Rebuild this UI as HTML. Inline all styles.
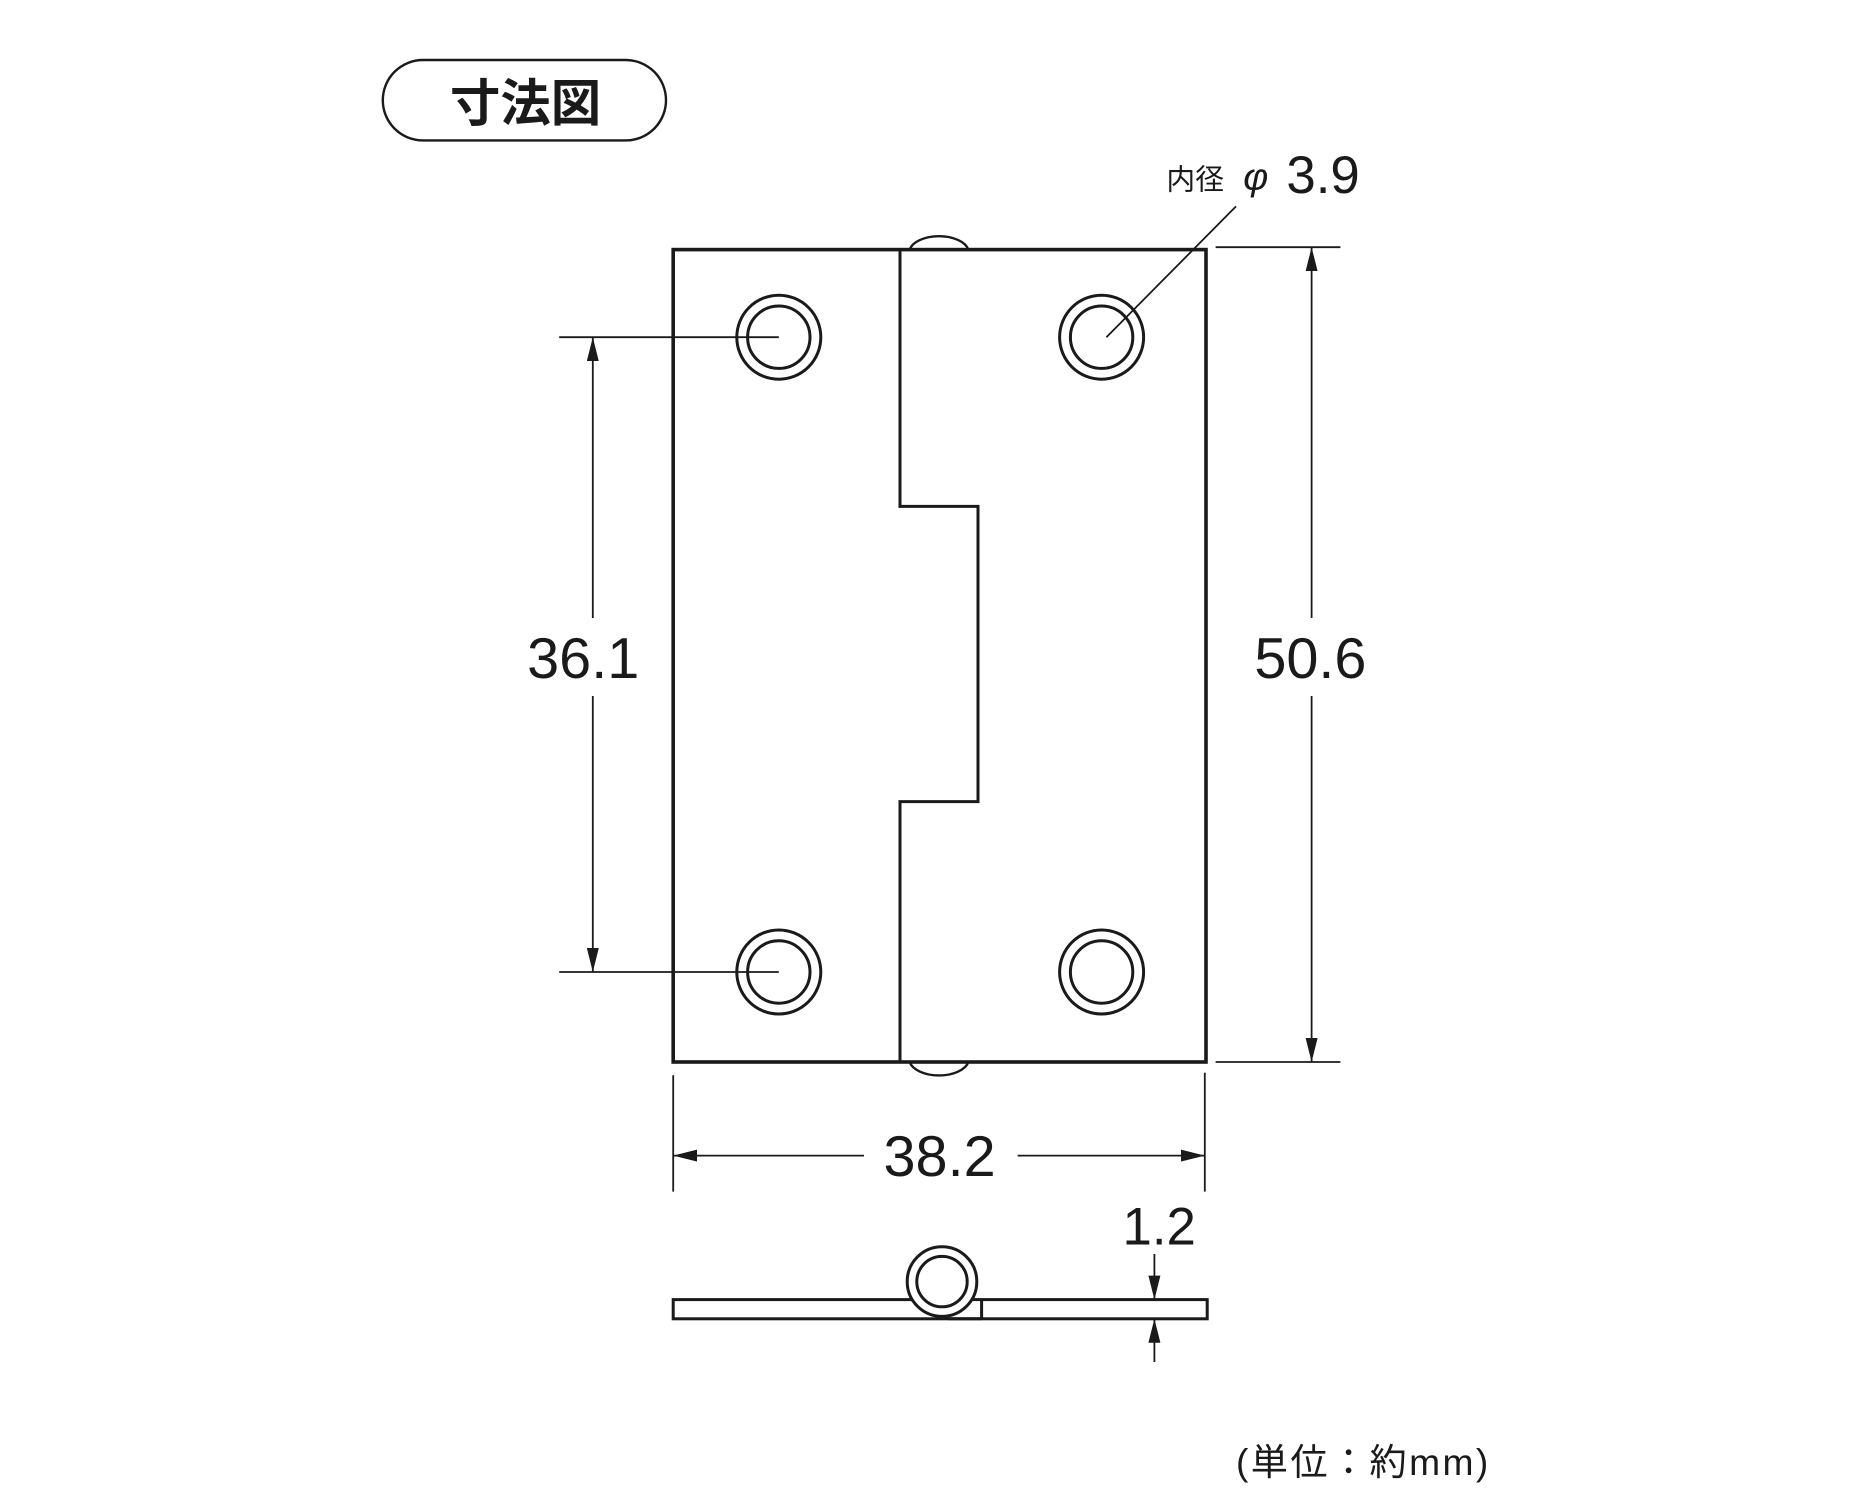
<!DOCTYPE html>
<html><head><meta charset="utf-8"><style>
html,body{margin:0;padding:0;background:#fff;}
svg{display:block;}
text{font-family:"Liberation Sans","Noto Sans CJK JP",sans-serif;fill:#1a1a1a;}
</style></head><body>
<svg width="1875" height="1500" viewBox="0 0 1562.5 1250" xmlns="http://www.w3.org/2000/svg">
<defs>
<marker id="a" viewBox="0 0 20 10" refX="20" refY="5" markerWidth="20" markerHeight="10" markerUnits="userSpaceOnUse" orient="auto-start-reverse"><path d="M0,0 L20,5 L0,10 z" fill="#1a1a1a"/></marker>
</defs>
<rect x="319" y="50" width="236" height="67" rx="33.5" fill="none" stroke="#1a1a1a" stroke-width="2"/>
<text x="438" y="101" font-size="42" font-weight="bold" text-anchor="middle">寸法図</text>

<g fill="none" stroke="#1a1a1a">
<path d="M758,208 A25,14 0 0 1 807,208" stroke-width="2"/>
<path d="M758,885 A25,14 0 0 0 807,885" stroke-width="2"/>
<rect x="561" y="208" width="444" height="677" stroke-width="3"/>
<path d="M750,208 V422 H815 V668 H750 V885" stroke-width="2.5"/>
<g stroke-width="2.5">
<circle cx="649" cy="281" r="35"/><circle cx="649" cy="281" r="26"/>
<circle cx="918" cy="281" r="35"/><circle cx="918" cy="281" r="26"/>
<circle cx="649" cy="810" r="35"/><circle cx="649" cy="810" r="26"/>
<circle cx="918" cy="810" r="35"/><circle cx="918" cy="810" r="26"/>
</g>
<g stroke-width="1.5">
<line x1="922" y1="281" x2="1030" y2="172"/>
<line x1="466" y1="281" x2="649" y2="281"/>
<line x1="466" y1="810" x2="649" y2="810"/>
<line x1="494" y1="515" x2="494" y2="281" marker-end="url(#a)"/>
<line x1="494" y1="580" x2="494" y2="810" marker-end="url(#a)"/>
<line x1="1013" y1="206" x2="1117" y2="206"/>
<line x1="1013" y1="885" x2="1117" y2="885"/>
<line x1="1093" y1="515" x2="1093" y2="206" marker-end="url(#a)"/>
<line x1="1093" y1="580" x2="1093" y2="885" marker-end="url(#a)"/>
<line x1="561" y1="896" x2="561" y2="993"/>
<line x1="1004" y1="894" x2="1004" y2="993"/>
<line x1="720" y1="963" x2="561" y2="963" marker-end="url(#a)"/>
<line x1="848" y1="963" x2="1004" y2="963" marker-end="url(#a)"/>
<line x1="962" y1="1045" x2="962" y2="1083" marker-end="url(#a)"/>
<line x1="962" y1="1135" x2="962" y2="1099" marker-end="url(#a)"/>
</g>
<!-- side view -->
<rect x="561" y="1083" width="445" height="16" stroke-width="2.5"/>
<circle cx="785" cy="1068" r="29" stroke-width="2.5" fill="#fff"/>
<circle cx="785" cy="1068" r="21" stroke-width="2.5" fill="#fff"/>
<line x1="818" y1="1083" x2="818" y2="1099" stroke-width="2.5"/>
<line x1="790" y1="1099" x2="818" y2="1099" stroke-width="2.5"/>
</g>

<text x="972" y="158" font-size="24">内径</text>
<text x="1036" y="158" font-size="32" font-style="italic">φ</text>
<text x="1072" y="161" font-size="44">3.9</text>
<text x="486" y="565" font-size="48" text-anchor="middle">36.1</text>
<text x="1092" y="565" font-size="48" text-anchor="middle">50.6</text>
<text x="783" y="980" font-size="48" text-anchor="middle">38.2</text>
<text x="966" y="1037" font-size="44" text-anchor="middle">1.2</text>
<text x="1030" y="1229" font-size="31" letter-spacing="2">(単位：約mm)</text>
</svg>
</body></html>
